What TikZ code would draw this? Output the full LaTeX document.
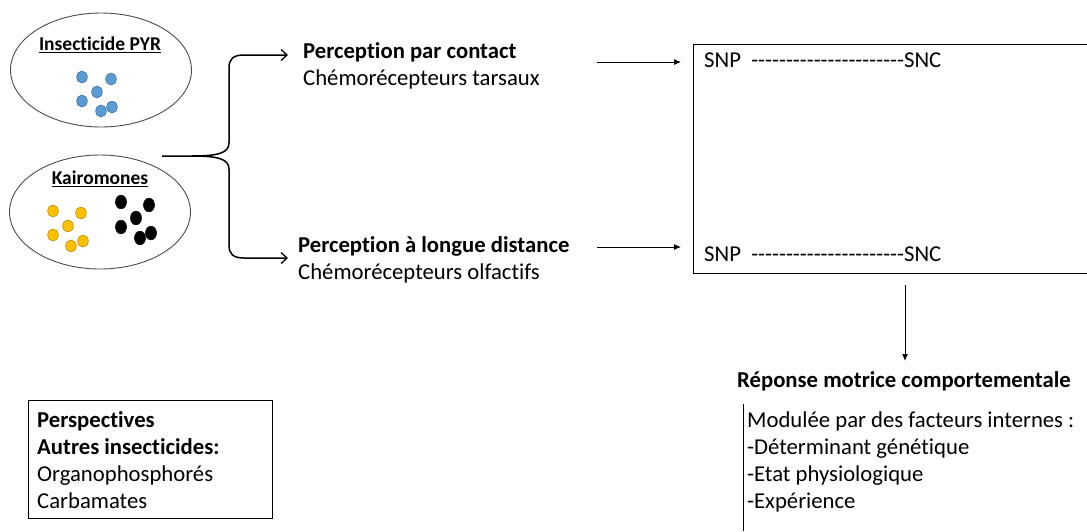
\documentclass[tikz,border=0pt]{standalone}
\usepackage{fontspec}
\setmainfont{Carlito}[Ligatures={TeXOff,NoCommon}]
\usetikzlibrary{arrows.meta,shapes.geometric}
\definecolor{dotblue}{HTML}{5B9BD5}
\definecolor{dotblueline}{HTML}{41719C}
\definecolor{dotyellow}{HTML}{FFC000}
\definecolor{dotyellowline}{HTML}{BC8C00}
\begin{document}
\begin{tikzpicture}[x=1pt,y=-1pt,
  txt/.style={anchor=base west,inner sep=0pt,font=\fontsize{22.7}{27}\selectfont},
  btxt/.style={anchor=base west,inner sep=0pt,font=\fontsize{22.7}{27}\selectfont\bfseries},
  otxt/.style={inner sep=0pt,font=\fontsize{19.5}{24}\selectfont\bfseries},
  oval/.style={draw=black!70,line width=0.9pt,ellipse,minimum width=181pt,minimum height=114pt,inner sep=0pt},
  bluedot/.style={fill=dotblue,draw=dotblueline,line width=0.6pt},
  yellowdot/.style={fill=dotyellow,draw=dotyellowline,line width=0.6pt},
  blackdot/.style={fill=black,draw=black,line width=0.6pt},
  brace/.style={line width=1.5pt,-{Straight Barb[length=6pt,width=11pt,line width=1.3pt]}},
  arr/.style={line width=1pt,-{Latex[length=7pt,width=6pt]}},
  frame/.style={draw,line width=1.3pt,inner sep=0pt}
]
\clip (0,0) rectangle (1087,531);
\fill[white] (0,0) rectangle (1087,531);

% ellipses
\node[oval] (pyr) at (101,70) {};
\node[oval] (kai) at (100,212) {};
\node[otxt] (pyrt) at (100,45) {\underline{Insecticide PYR}};
\node[otxt] (kait) at (100,179) {\underline{Kairomones}};

% blue dots
\foreach \p in {(82,77),(111,79),(97,92),(82,101),(112,107),(101,111)}
  \filldraw[bluedot] \p ellipse [x radius=5.3, y radius=6];
% yellow dots
\foreach \p in {(53,211),(81,213),(68,226),(53,235),(83,241),(71,246)}
  \filldraw[yellowdot] \p ellipse [x radius=5.3, y radius=6];
% black dots
\foreach \p in {(121,202),(149,205),(136,218),(121,227),(151,233),(140,238)}
  \filldraw[blackdot] \p ellipse [x radius=5.5, y radius=6.8];

% perception texts
\node[btxt] (pc) at (303,58) {Perception par contact};
\node[txt] (pct) at (303,85) {Chémorécepteurs tarsaux};
\node[btxt] (pl) at (298,252) {Perception à longue distance};
\node[txt] (plt) at (298,279) {Chémorécepteurs olfactifs};

% brace connector
\coordinate (src) at (162,156);
\coordinate (topend) at (288,55);
\coordinate (botend) at (288,258);
\draw[brace] (src) -- (192,156) .. controls (218,156) and (229,153) .. (229,143)
  -- (229,68) .. controls (229,59) and (233,55) .. (244,55) -- (topend);
\draw[brace] (192,156) .. controls (218,156) and (229,159) .. (229,169)
  -- (229,245) .. controls (229,254) and (233,258) .. (244,258) -- (botend);

% central box
\node[frame,anchor=north west,minimum width=420pt,minimum height=229pt] (cns) at (693,44) {};
\node[txt] (snp1) at (704,67) {SNP\ \ ----------------------SNC};
\node[txt] (snp2) at (704,261) {SNP\ \ ----------------------SNC};

\coordinate (a1s) at (597,62);
\coordinate (a1e) at (681,62);
\coordinate (a2s) at (597,247);
\coordinate (a2e) at (681,247);
\draw[arr] (a1s) -- (a1e);
\draw[arr] (a2s) -- (a2e);

% response
\coordinate (ds) at (905,285);
\coordinate (de) at (905,361);
\draw[arr] (ds) -- (de);
\node[btxt] (rep) at (737,387) {Réponse motrice comportementale};

\coordinate (vl1) at (743,404);
\coordinate (vl2) at (743,531);
\draw[line width=0.8pt] (vl1) -- (vl2);
\node[txt] (m1) at (747,427) {Modulée par des facteurs internes :};
\node[txt] (m2) at (747,454) {-Déterminant génétique};
\node[txt] (m3) at (747,481) {-Etat physiologique};
\node[txt] (m4) at (747,508) {-Expérience};

% perspectives box
\node[frame,line width=1pt,anchor=north west,minimum width=244pt,minimum height=118pt] (persp) at (28,400) {};
\node[btxt] (p1) at (37,427) {Perspectives};
\node[btxt] (p2) at (37,454) {Autres insecticides:};
\node[txt] (p3) at (37,481) {Organophosphorés};
\node[txt] (p4) at (37,508) {Carbamates};
\end{tikzpicture}
\end{document}
